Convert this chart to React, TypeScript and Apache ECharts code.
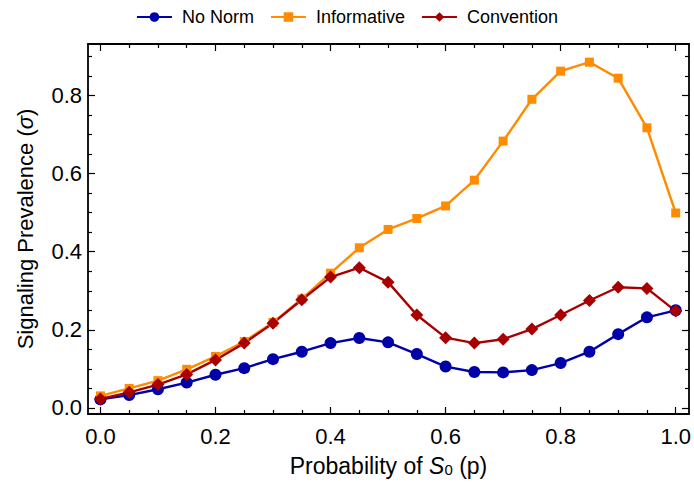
import React, { useEffect, useRef } from "react";
import * as echarts from "echarts";

const pValues = [0, 0.05, 0.1, 0.15, 0.2, 0.25, 0.3, 0.35, 0.4, 0.45, 0.5, 0.55, 0.6, 0.65, 0.7, 0.75, 0.8, 0.85, 0.9, 0.95, 1.0];
const noNorm = [0.022, 0.033, 0.048, 0.065, 0.085, 0.102, 0.125, 0.144, 0.166, 0.179, 0.168, 0.138, 0.106, 0.092, 0.091, 0.097, 0.115, 0.144, 0.189, 0.232, 0.25];
const informative = [0.031, 0.05, 0.07, 0.099, 0.132, 0.17, 0.219, 0.279, 0.345, 0.41, 0.457, 0.485, 0.517, 0.583, 0.683, 0.79, 0.862, 0.885, 0.844, 0.717, 0.499];
const convention = [0.023, 0.04, 0.06, 0.086, 0.123, 0.166, 0.217, 0.277, 0.335, 0.359, 0.322, 0.238, 0.18, 0.166, 0.176, 0.202, 0.238, 0.275, 0.309, 0.306, 0.248];

const xMajor = [0, 0.2, 0.4, 0.6, 0.8, 1.0];
const xMinor = [0.05, 0.1, 0.15, 0.25, 0.3, 0.35, 0.45, 0.5, 0.55, 0.65, 0.7, 0.75, 0.85, 0.9, 0.95];
const yMajor = [0, 0.2, 0.4, 0.6, 0.8];
const yMinor = [0.05, 0.1, 0.15, 0.25, 0.3, 0.35, 0.45, 0.5, 0.55, 0.65, 0.7, 0.75, 0.85, 0.9];

const X_MIN = -0.0216;
const X_MAX = 1.0231;
const Y_MIN = -0.0154;
const Y_MAX = 0.9315;

const FONT = "Liberation Sans, Arial, sans-serif";

export default function App() {
  const ref = useRef<HTMLDivElement>(null);
  useEffect(() => {
    if (!ref.current) return;
    const chart = echarts.init(ref.current, undefined, { renderer: "svg" });
    const lineStyle = { color: "#000", width: 1.8 };
    const mkX = (pos: string, labels: boolean, values: number[], len: number, showLine: boolean, extra: any = {}) => ({
      type: "value",
      position: pos,
      min: X_MIN,
      max: X_MAX,
      axisLine: { show: showLine, onZero: false, lineStyle },
      axisTick: { show: true, inside: true, length: len, customValues: values, lineStyle: { color: "#000", width: 1.2 } },
      axisLabel: labels
        ? { show: true, customValues: values, formatter: (v: number) => v.toFixed(1), fontSize: 22, color: "#000", fontFamily: FONT, margin: 11 }
        : { show: false },
      splitLine: { show: false },
      ...extra,
    });
    const mkY = (pos: string, labels: boolean, values: number[], len: number, showLine: boolean, extra: any = {}) => ({
      type: "value",
      position: pos,
      min: Y_MIN,
      max: Y_MAX,
      axisLine: { show: showLine, onZero: false, lineStyle },
      axisTick: { show: true, inside: true, length: len, customValues: values, lineStyle: { color: "#000", width: 1.2 } },
      axisLabel: labels
        ? { show: true, customValues: values, formatter: (v: number) => v.toFixed(1), fontSize: 22, color: "#000", fontFamily: FONT, margin: 6 }
        : { show: false },
      splitLine: { show: false },
      ...extra,
    });
    const xName = {
      name: "Probability of {i|S}{sub|0} (p)",
      nameLocation: "middle",
      nameGap: 40,
      nameTextStyle: {
        fontSize: 23,
        color: "#000",
        fontFamily: FONT,
        rich: {
          i: { fontSize: 23, fontStyle: "italic", fontFamily: FONT, color: "#000" },
          sub: { fontSize: 15, fontFamily: FONT, color: "#000", verticalAlign: "bottom", lineHeight: 8 },
        },
      },
    };
    const yName = {
      name: "Signaling Prevalence ({i|σ})",
      nameLocation: "middle",
      nameGap: 52,
      nameTextStyle: {
        fontSize: 22,
        color: "#000",
        fontFamily: FONT,
        rich: {
          i: { fontSize: 22, fontStyle: "italic", fontFamily: FONT, color: "#000" },
        },
      },
    };
    const mkData = (vals: number[]) => pValues.map((p, i) => [p, vals[i]]);
    chart.setOption({
      animation: false,
      backgroundColor: "#fff",
      grid: { left: 88, right: 5, top: 44, bottom: 79, containLabel: false },
      legend: {
        top: 3,
        left: "center",
        itemWidth: 35,
        itemHeight: 12,
        itemGap: 16,
        textStyle: { fontSize: 18, color: "#000", fontFamily: FONT, padding: [0, 0, 0, 5] },
        data: ["No Norm", "Informative", "Convention"],
      },
      xAxis: [
        mkX("bottom", true, xMajor, 7, true, xName),
        mkX("bottom", false, xMinor, 4, false),
        mkX("top", false, xMajor, 7, true),
        mkX("top", false, xMinor, 4, false),
      ],
      yAxis: [
        mkY("left", true, yMajor, 7, true, yName),
        mkY("left", false, yMinor, 4, false),
        mkY("right", false, yMajor, 7, true),
        mkY("right", false, yMinor, 4, false),
      ],
      series: [
        {
          name: "No Norm",
          type: "line",
          data: mkData(noNorm),
          symbol: "circle",
          symbolSize: 12,
          color: "#0000A8",
          lineStyle: { width: 2.4, color: "#0000A8" },
          itemStyle: { color: "#0000A8" },
        },
        {
          name: "Informative",
          type: "line",
          data: mkData(informative),
          symbol: "rect",
          symbolSize: 9,
          color: "#FF8C00",
          lineStyle: { width: 2.4, color: "#FF8C00" },
          itemStyle: { color: "#FF8C00" },
        },
        {
          name: "Convention",
          type: "line",
          data: mkData(convention),
          symbol: "diamond",
          symbolSize: 13,
          color: "#A80000",
          lineStyle: { width: 2.4, color: "#A80000" },
          itemStyle: { color: "#A80000" },
        },
      ],
    });
    return () => chart.dispose();
  }, []);
  return <div ref={ref} style={{ width: 694, height: 493, position: "absolute", left: 0, top: 0 }} />;
}
